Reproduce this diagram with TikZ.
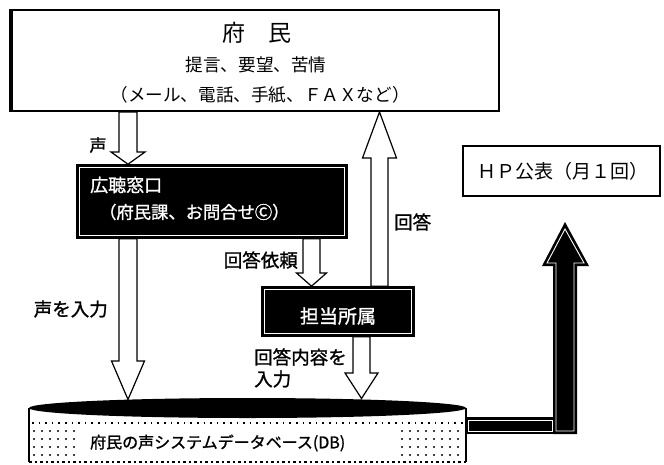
\documentclass[tikz,border=0pt]{standalone}
\usepackage{fontspec}
\newfontfamily\jp{Noto Sans CJK JP}
\newfontfamily\jpb{Noto Sans CJK JP}[FakeBold=1.2]
\usetikzlibrary{calc}
\newcommand\blockarr[6]{% #1 xc, #2 shaft half, #3 head half, #4 start coord, #5 head base y, #6 tip coord
  \draw[arrstyle] let \p1=(#4), \p2=(#6) in
    ({(#1-#2)*1pt},\y1) -- (#1-#2,#5) -- (#1-#3,#5) -- ({(#1)*1pt},\y2)
    -- (#1+#3,#5) -- (#1+#2,#5) -- ({(#1+#2)*1pt},\y1) -- cycle;}
\newcommand\insetline[1]{%
  \draw[white, line width=0.9pt] ([shift={(3,3)}]#1.north west) rectangle ([shift={(-3,-3)}]#1.south east);}
\begin{document}
\begin{tikzpicture}[x=1pt,y=-1pt,
  wbox/.style={draw=black, fill=white, line width=2pt, inner sep=0pt},
  bbox/.style={draw=black, fill=black, line width=1.6pt, inner sep=0pt},
  bshape/.style={fill=black},
  wline/.style={draw=white, line width=0.9pt, line join=miter},
  arrstyle/.style={draw=black, fill=white, line width=1.2pt, line join=miter},
  txt/.style={font=\jp\fontsize{#1}{#1}\selectfont, inner sep=0pt},
  btxt/.style={font=\jpb\fontsize{#1}{#1}\selectfont, inner sep=0pt},
  wtxt/.style={btxt=#1, text=white}]
\useasboundingbox (0,0) rectangle (664,464);

% top box
\node[wbox, minimum width=487pt, minimum height=101pt] (top) at (255.5,60.5) {};
\draw[line width=4pt] (top.north west) -- (top.south west);
\node[txt=23] (t1) at (257,33) {府　民};
\node[txt=17.6] (t2) at (256,65) {提言、要望、苦情};
\node[txt=17.6] (t3) at (260,95) {（メール、電話、手紙、ＦＡＸなど）};

% window box
\node[bbox, minimum width=270pt, minimum height=73pt] (mado) at (212,201.5) {};
\insetline{mado}
\node[wtxt=18, anchor=west] (m1) at (90,185) {広聴窓口};
\node[wtxt=17.3, anchor=west] (m2) at (99,212) {（府民課、お問合せⒸ）};

% tanto box
\node[bbox, minimum width=152pt, minimum height=49pt] (tanto) at (338,311.5) {};
\insetline{tanto}
\node[wtxt=19] (tt) at (338,316) {担当所属};

% HP box
\node[wbox, minimum width=197pt, minimum height=50pt] (hp) at (561.5,171) {};
\node[txt=19] (hpt) at (563,171) {ＨＰ公表（月１回）};

% database cylinder
\coordinate (dbc) at (247.5,408);
\fill[white] (29,408) rectangle (466,462);
\draw[line width=1.6pt, dash pattern=on 1.6pt off 5pt] (32,423) -- (464,423);
\foreach \yy in {431,439,447,455}{
  \foreach \xx in {34,42,...,74}{\fill (\xx,\yy) circle[radius=1.1];}
  \foreach \xx in {402,410,...,460}{\fill (\xx,\yy) circle[radius=1.1];}
}
\draw[line width=1.2pt, dash pattern=on 2.5pt off 3pt] (29,462) -- (466,462);
\draw[line width=1.4pt] (29,408) -- (29,462);
\draw[line width=1.4pt] (466,408) -- (466,462);
\fill[black] (dbc) ellipse [x radius=218.5, y radius=10];
\node[btxt=16, anchor=west] (dbt) at (90,443) {府民の声システムデータベース(DB)};

% arrows
\blockarr{128}{9}{17}{top.south}{152}{mado.north}
\node[btxt=17] (lv) at (98,145) {声};
\blockarr{128}{9}{16.5}{mado.south}{361}{128,399.5}
\node[btxt=18.5, anchor=east] (lin) at (108,309) {声を入力};
\blockarr{311.5}{8.5}{15}{mado.south}{273}{tanto.north}
\node[btxt=18.5, anchor=east] (lreq) at (298,260) {回答依頼};
\blockarr{379.5}{8.5}{17}{tanto.north}{158}{top.south}
\node[btxt=18.5, anchor=west] (lans) at (394,222) {回答};
\blockarr{361.5}{8.5}{16.5}{tanto.south}{373}{361.5,398.5}
\node[btxt=18.5, anchor=west] (lc1) at (254,357) {回答内容を};
\node[btxt=18.5, anchor=west] (lc2) at (254,379) {入力};

% HP arrow (black with white inset line)
\fill[bshape] (465,417) rectangle (555,434);
\draw[wline] (468,420) -- (552,420) -- (552,431) -- (468,431) -- cycle;
\fill[bshape] (553,434) -- (553,266) -- (542,266) -- (565,222) -- (589,266) -- (577,266) -- (577,434) -- cycle;
\draw[wline] (556,431) -- (556,263) -- (547,263) -- (565,229) -- (584,263) -- (574,263) -- (574,431) -- cycle;
\end{tikzpicture}
\end{document}
